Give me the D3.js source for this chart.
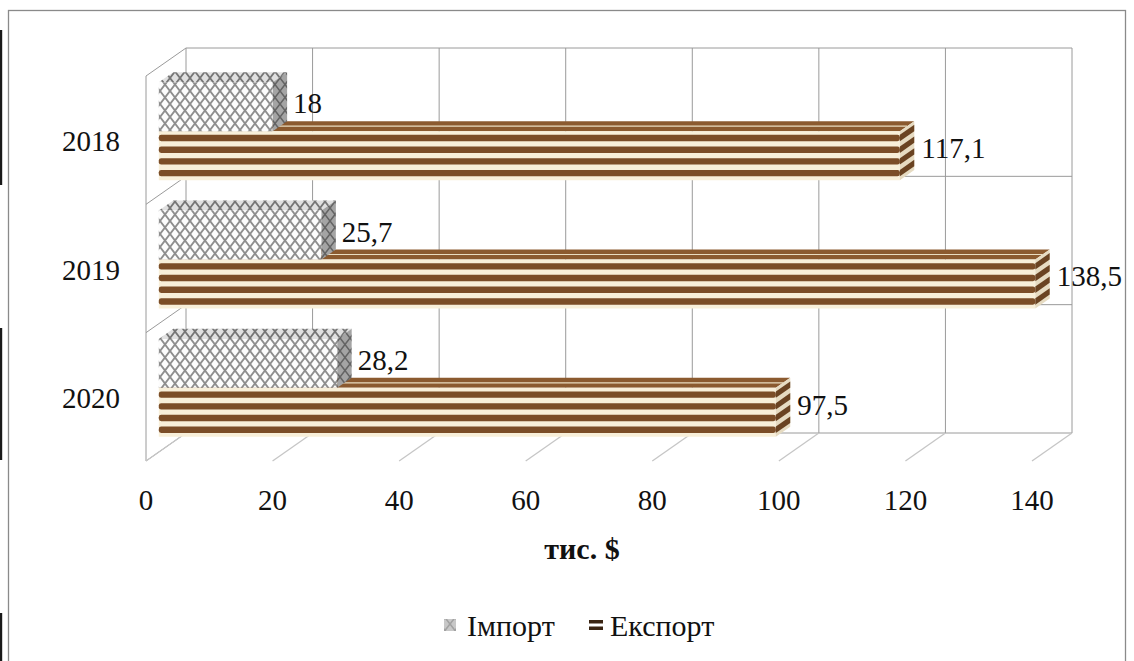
<!DOCTYPE html>
<html>
<head>
<meta charset="utf-8">
<script src="https://cdn.jsdelivr.net/npm/d3@7"></script>
<style>
  html, body { margin: 0; padding: 0; background: #fff; }
  svg { display: block; }
  text { font-family: "Liberation Serif", "Times New Roman", serif; fill: #111; }
</style>
</head>
<body>
<svg id="chart" width="1134" height="661"></svg>
<script>
// Foreign trade, thousand USD
const years = ["2018", "2019", "2020"];
const seriesNames = ["Імпорт", "Експорт"];
const importValues = [18, 25.7, 28.2];
const exportValues = [117.1, 138.5, 97.5];
const xTickValues = [0, 20, 40, 60, 80, 100, 120, 140];
const axisTitle = "тис. $";

const svg = d3.select("#chart");
const fmt = d3.formatLocale({decimal: ",", thousands: " ", grouping: [3], currency: ["", "$"]}).format(".1~f");

// 3D box geometry (oblique projection): depth vector and bar depth span
const DX = 40, DY = -28;
const F0 = 0.32, F1 = 0.68;
const frontTop = 76, frontBottom = 461;

const x = d3.scaleLinear().domain([0, 140]).range([146, 1032]);
const y = d3.scaleBand().domain(years).range([frontTop, frontBottom]);
const ySub = d3.scaleBand().domain(seriesNames).range([0, y.bandwidth()]).paddingInner(0).paddingOuter(0.31);

const P = (v, yy, f) => [x(v) + DX * f, yy + DY * f];
const poly = pts => pts.map(p => p.join(",")).join(" ");

// fill patterns
const defs = svg.append("defs");
function trellis(id, bg, line, w) {
  const p = defs.append("pattern").attr("id", id).attr("patternUnits", "userSpaceOnUse")
    .attr("width", 10).attr("height", 13);
  p.append("rect").attr("width", 10).attr("height", 13).attr("fill", bg);
  p.append("path").attr("d", "M-2,-2.6 L12,15.6 M12,-2.6 L-2,15.6 M-12,-2.6 L2,15.6 M8,-2.6 L22,15.6")
    .attr("stroke", line).attr("stroke-width", w).attr("fill", "none");
}
trellis("hatchFront", "#fcfcfc", "#8e8e8e", 1.9);
trellis("hatchTop", "#e0e0e0", "#767676", 1.8);
trellis("hatchSide", "#a4a4a4", "#646464", 1.6);

// page frame
svg.append("rect").attr("x", 8.5).attr("y", 10.5).attr("width", 1117).attr("height", 700)
  .attr("fill", "none").attr("stroke", "#8a8a8a").attr("stroke-width", 1.3);
[[30, 185], [328, 460], [613, 661]].forEach(([a, b]) => {
  svg.append("rect").attr("x", 0).attr("y", a).attr("width", 2.2).attr("height", b - a).attr("fill", "#1a1a1a");
});

// walls & gridlines
const grid = svg.append("g").attr("stroke", "#9a9a9a").attr("stroke-width", 1).attr("fill", "none");
grid.selectAll("line.v").data(xTickValues).join("line")
  .attr("x1", d => P(d, frontTop, 1)[0]).attr("y1", P(0, frontTop, 1)[1])
  .attr("x2", d => P(d, frontBottom, 1)[0]).attr("y2", P(0, frontBottom, 1)[1]);
const boundaries = years.map(d => y(d)).concat([frontBottom]);
grid.selectAll("line.h").data(boundaries).join("line")
  .attr("x1", P(0, 0, 1)[0]).attr("x2", P(140, 0, 1)[0])
  .attr("y1", d => P(0, d, 1)[1]).attr("y2", d => P(0, d, 1)[1]);
grid.append("line").attr("x1", x(0)).attr("x2", x(0)).attr("y1", frontTop).attr("y2", frontBottom);
grid.selectAll("line.d").data(boundaries).join("line")
  .attr("x1", x(0)).attr("y1", d => d)
  .attr("x2", P(0, 0, 1)[0]).attr("y2", d => P(0, d, 1)[1]);
svg.append("g").attr("stroke", "#c6c6c6").attr("stroke-width", 1.3)
  .selectAll("line").data(xTickValues).join("line")
  .attr("x1", d => x(d)).attr("y1", frontBottom)
  .attr("x2", d => P(d, frontBottom, 1)[0]).attr("y2", P(0, frontBottom, 1)[1]);

// bars
const BROWN = "#7b4d27", BROWN_TOP = "#8b5a2f", CREAM = "#f8efd9";
const bars = svg.append("g");
years.forEach((yr, i) => {
  // export bar sits lower in the cluster; drawn first so the import bar hides its top
  const ev = exportValues[i];
  const et = y(yr) + ySub("Експорт"), eb = et + ySub.bandwidth();
  const ge = bars.append("g");
  ge.append("polygon").attr("points", poly([P(0, et, F0), P(ev, et, F0), P(ev, et, F1), P(0, et, F1)]))
    .attr("fill", BROWN_TOP);
  ge.append("line").attr("x1", P(0, et, 0.5)[0]).attr("y1", P(0, et, 0.5)[1])
    .attr("x2", P(ev, et, 0.5)[0]).attr("y2", P(ev, et, 0.5)[1])
    .attr("stroke", "#e9dcc0").attr("stroke-width", 1.2);
  ge.append("polygon").attr("points", poly([P(0, et, F0), P(ev, et, F0), P(ev, eb, F0), P(0, eb, F0)]))
    .attr("fill", CREAM);
  ge.append("polygon").attr("points", poly([P(ev, et, F0), P(ev, et, F1), P(ev, eb, F1), P(ev, eb, F0)]))
    .attr("fill", "#e6dbc2");
  const stripeH = 6.4, stripeStep = 11.7, stripeOff = 3.6;
  d3.range(4).forEach(k => {
    const s0 = et + stripeOff + k * stripeStep, s1 = s0 + stripeH;
    const a = P(0, s0, F0), b = P(ev, s1, F0);
    ge.append("rect").attr("x", a[0]).attr("y", a[1]).attr("width", b[0] - a[0]).attr("height", stripeH)
      .attr("rx", 2.4).attr("fill", BROWN);
    ge.append("polygon").attr("points", poly([P(ev, s0, F0), P(ev, s0, F1), P(ev, s1, F1), P(ev, s1, F0)]))
      .attr("fill", "#6a4322");
  });

  // import bar
  const iv = importValues[i];
  const it = y(yr) + ySub("Імпорт"), ib = it + ySub.bandwidth();
  const gi = bars.append("g");
  gi.append("polygon").attr("points", poly([P(0, it, F0), P(iv, it, F0), P(iv, it, F1), P(0, it, F1)]))
    .attr("fill", "url(#hatchTop)");
  gi.append("polygon").attr("points", poly([P(0, it, F0), P(iv, it, F0), P(iv, ib, F0), P(0, ib, F0)]))
    .attr("fill", "url(#hatchFront)");
  gi.append("polygon").attr("points", poly([P(iv, it, F0), P(iv, it, F1), P(iv, ib, F1), P(iv, ib, F0)]))
    .attr("fill", "url(#hatchSide)");
});

// value labels
const lab = svg.append("g").style("font-size", "29px");
years.forEach((yr, i) => {
  const iv = importValues[i], ev = exportValues[i];
  const ic = y(yr) + ySub("Імпорт") + ySub.bandwidth() / 2;
  const ec = y(yr) + ySub("Експорт") + ySub.bandwidth() / 2;
  lab.append("text").attr("x", P(iv, 0, F1)[0] + 6).attr("y", P(iv, ic, 0.45)[1]).attr("dy", "0.35em").text(fmt(iv));
  lab.append("text").attr("x", P(ev, 0, F1)[0] + 7).attr("y", P(ev, ec, 0.6)[1]).attr("dy", "0.35em").text(fmt(ev));
});

// category labels
svg.append("g").style("font-size", "29px").selectAll("text").data(years).join("text")
  .attr("x", 120).attr("y", d => y(d) + y.bandwidth() / 2 + 1).attr("dy", "0.35em")
  .attr("text-anchor", "end").text(d => d);

// value axis tick labels
svg.append("g").style("font-size", "29px").selectAll("text").data(xTickValues).join("text")
  .attr("x", d => x(d)).attr("y", 500).attr("dy", "0.35em").attr("text-anchor", "middle").text(d => d);

// axis title
svg.append("text").attr("x", 582).attr("y", 548).attr("dy", "0.35em").attr("text-anchor", "middle")
  .style("font-size", "30px").style("font-weight", "bold").text(axisTitle);

// legend
const legY = 625;
const lg = svg.append("g").style("font-size", "30px");
lg.append("rect").attr("x", 444).attr("y", legY - 6).attr("width", 12).attr("height", 12)
  .attr("fill", "url(#hatchSide)").attr("opacity", 0.6);
lg.append("text").attr("x", 467).attr("y", legY).attr("dy", "0.35em").text(seriesNames[0]);
lg.append("rect").attr("x", 589).attr("y", legY - 5).attr("width", 14).attr("height", 3.5).attr("fill", "#3a2412");
lg.append("rect").attr("x", 589).attr("y", legY + 1.5).attr("width", 14).attr("height", 3.5).attr("fill", "#3a2412");
lg.append("text").attr("x", 610).attr("y", legY).attr("dy", "0.35em").text(seriesNames[1]);
</script>
</body>
</html>
